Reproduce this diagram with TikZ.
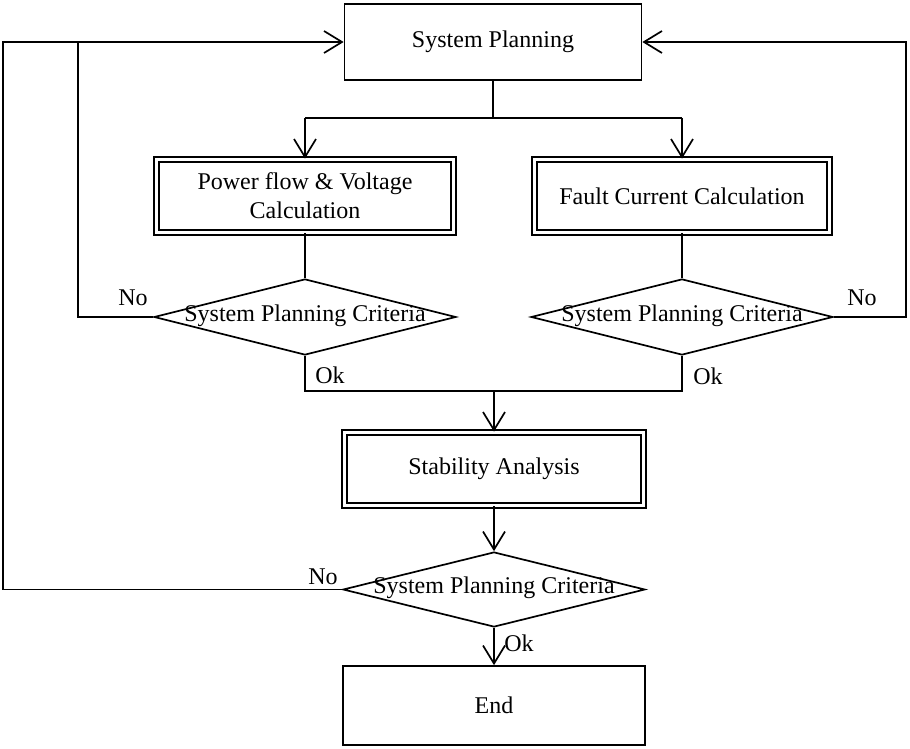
\documentclass[tikz,border=0pt]{standalone}
\usepackage{fontspec}
\setmainfont{Liberation Serif}
\usetikzlibrary{shapes.geometric,arrows.meta}
\begin{document}
\begin{tikzpicture}[x=1pt,y=-1pt,
  every node/.style={font=\fontsize{24}{29}\selectfont},
  plainbox/.style={draw,line width=1.7pt,minimum width=297pt,minimum height=76pt,inner sep=0pt},
  dblbox/.style={draw,line width=1.7pt,double,double distance=3pt,minimum width=297pt,minimum height=73pt,inner sep=0pt,align=center},
  decide/.style={draw,diamond,line width=1.7pt,minimum width=302pt,minimum height=76pt,inner sep=0pt},
  conn/.style={line width=1.7pt},
  arr/.style={conn,-{Straight Barb[length=18pt,width=22pt,line width=1.7pt]}},
  lbl/.style={inner sep=0pt}
]
\useasboundingbox (0,0) rectangle (910,749);
\node[plainbox] (sp) at (493,42) {System Planning};
\node[dblbox] (pf) at (305,196) {Power flow \& Voltage\\Calculation};
\node[dblbox,minimum width=295pt] (fc) at (682,196) {Fault Current Calculation};
\node[decide] (d1) at (305,317) {};
\node[lbl] (t1) at (305,316) {System Planning Criteria};
\node[decide] (d2) at (682,317) {};
\node[lbl] (t2) at (682,316) {System Planning Criteria};
\node[dblbox,minimum width=299pt] (sa) at (494,469) {Stability Analysis};
\node[decide,minimum height=75pt] (d3) at (494,589.5) {};
\node[lbl] (t3) at (494,588) {System Planning Criteria};
\node[plainbox,minimum width=302pt,minimum height=79pt] (end) at (494,705.5) {End};

\node[lbl] (no1) at (133,298) {No};
\node[lbl] (no2) at (862,298) {No};
\node[lbl] (no3) at (323,577) {No};
\node[lbl] (ok1) at (330,375) {Ok};
\node[lbl] (ok2) at (708,376) {Ok};
\node[lbl] (ok3) at (519,643) {Ok};

\coordinate (split) at (493,118);
\coordinate (splitL) at (305,118);
\coordinate (splitR) at (682,118);
\coordinate (join) at (494,391);
\coordinate (outL) at (3,42);
\coordinate (inL) at (78,42);
\coordinate (outR) at (906,42);

\draw[conn] (sp.south) -- (split);
\draw[conn] (splitL) -- (splitR);
\draw[arr] (splitL) -- (pf.north);
\draw[arr] (splitR) -- (fc.north);
\draw[conn] (pf.south) -- (d1.north);
\draw[conn] (fc.south) -- (d2.north);
\draw[conn] (d1.south) |- (join) -| (d2.south);
\draw[arr] (join) -- (sa.north);
\draw[arr] (sa.south) -- (d3.north);
\draw[arr] (d3.south) -- (end.north);
\draw[conn] (d1.west) -| (inL);
\draw[arr] (d3.west) -| (outL) -- (sp.west);
\draw[arr] (d2.east) -| (outR) -- (sp.east);
\end{tikzpicture}
\end{document}
